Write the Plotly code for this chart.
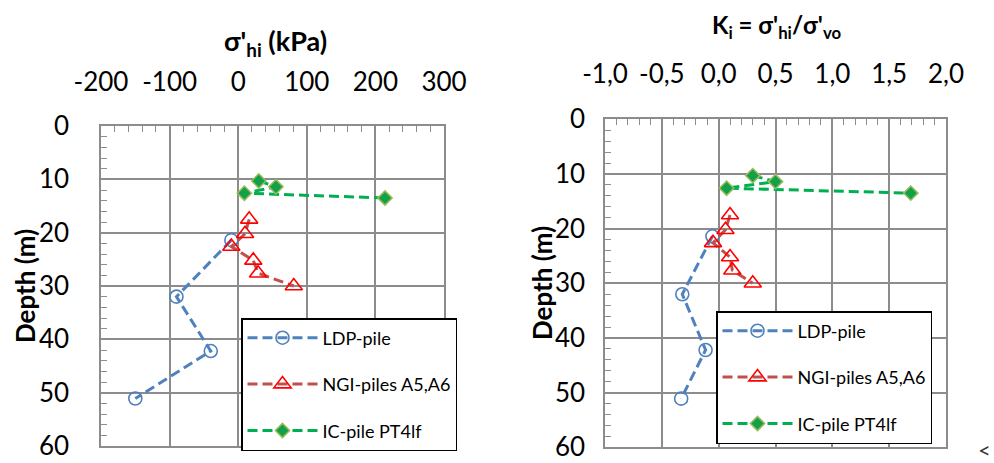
import plotly.graph_objects as go

# ---- data ----
ldp_depth = [21.4, 32.0, 42.2, 51.1]
ldp_sigma = [-10, -90, -40, -150]
ldp_k = [-0.055, -0.32, -0.115, -0.33]

ngi_depth = [17.5, 20.2, 22.6, 25.2, 27.6, 30.0]
ngi_sigma = [16, 10, -10, 22, 29, 81]
ngi_k = [0.10, 0.06, -0.05, 0.10, 0.12, 0.30]

ic_depth = [10.3, 11.4, 12.6, 13.5]
ic_sigma = [30, 55, 9, 214]
ic_k = [0.30, 0.50, 0.07, 1.69]

sigma_ticks = [-200, -100, 0, 100, 200, 300]
sigma_labels = ["-200", "-100", "0", "100", "200", "300"]
k_ticks = [-1.0, -0.5, 0.0, 0.5, 1.0, 1.5, 2.0]
k_labels = ["-1,0", "-0,5", "0,0", "0,5", "1,0", "1,5", "2,0"]
depth_ticks = [0, 10, 20, 30, 40, 50, 60]
depth_labels = ["0", "10", "20", "30", "40", "50", "60"]

names = ["LDP-pile", "NGI-piles A5,A6", "IC-pile PT4lf"]

FONT = "Lato"
GRID = "#8c8c8c"
DASH = "10px,5px"

fig = go.Figure()

styles = [
    dict(line=dict(color="#4F81BD", width=3, dash=DASH),
         marker=dict(symbol="circle-open", size=13, color="#4F81BD", line=dict(width=1.6, color="#4F81BD"))),
    dict(line=dict(color="#C0504D", width=3, dash=DASH),
         marker=dict(symbol="triangle-up-open", size=15, color="#FF0000", line=dict(width=1.6, color="#FF0000"))),
    dict(line=dict(color="#00B050", width=3, dash=DASH),
         marker=dict(symbol="diamond", size=11, color="#13A04A", line=dict(width=1.5, color="#9BBB59"))),
]

left = [(ldp_sigma, ldp_depth), (ngi_sigma, ngi_depth), (ic_sigma, ic_depth)]
right = [(ldp_k, ldp_depth), (ngi_k, ngi_depth), (ic_k, ic_depth)]

for i, (xs, ys) in enumerate(left):
    fig.add_trace(go.Scatter(x=xs, y=ys, mode="lines+markers", name=names[i],
                             xaxis="x", yaxis="y", legend="legend",
                             legendgroup="l%d" % i, **styles[i]))
for i, (xs, ys) in enumerate(right):
    fig.add_trace(go.Scatter(x=xs, y=ys, mode="lines+markers", name=names[i],
                             xaxis="x2", yaxis="y2", legend="legend2",
                             legendgroup="r%d" % i, **styles[i]))

W, H = 994, 463
def px_x(p):
    return p / W
def px_y(p):
    return 1 - p / H

tickfont = dict(family=FONT, size=26, color="black")

common_x = dict(side="top", showgrid=True, gridcolor=GRID, gridwidth=1.5,
                showline=True, linecolor=GRID, linewidth=1.5, mirror=True,
                zeroline=False, ticks="inside", ticklen=6, tickcolor=GRID, tickwidth=1,
                tickfont=tickfont, automargin=False)
common_y = dict(showgrid=True, gridcolor=GRID, gridwidth=1.5,
                showline=True, linecolor=GRID, linewidth=1.5, mirror=True,
                zeroline=False, ticks="inside", ticklen=6, tickcolor=GRID, tickwidth=1,
                tickfont=tickfont, automargin=False,
                tickvals=depth_ticks, ticktext=depth_labels, range=[60, 0],
                minor=dict(ticks="inside", ticklen=6, tickcolor=GRID, dtick=2, showgrid=False))

legend_common = dict(xanchor="left", yanchor="top",
                     bgcolor="white", bordercolor="black", borderwidth=1.5,
                     font=dict(family=FONT, size=18, color="black"),
                     tracegroupgap=20, itemwidth=70)

fig.update_layout(
    width=W, height=H, margin=dict(l=0, r=0, t=0, b=0),
    paper_bgcolor="white", plot_bgcolor="white",
    xaxis=dict(domain=[px_x(101), px_x(444)], anchor="y", range=[-200, 300],
               tickvals=sigma_ticks, ticktext=sigma_labels, ticklabelstandoff=23,
               minor=dict(ticks="inside", ticklen=6, tickcolor=GRID, dtick=20, showgrid=False),
               **common_x),
    yaxis=dict(domain=[px_y(446), px_y(126)], anchor="x", ticklabelstandoff=25, **common_y),
    xaxis2=dict(domain=[px_x(605), px_x(946)], anchor="y2", range=[-1, 2],
                tickvals=k_ticks, ticktext=k_labels, ticklabelstandoff=24,
                minor=dict(ticks="inside", ticklen=6, tickcolor=GRID, dtick=0.1, showgrid=False),
                **common_x),
    yaxis2=dict(domain=[px_y(447.3), px_y(119.3)], anchor="x2", ticklabelstandoff=13, **common_y),
    legend=dict(x=px_x(241), y=px_y(318), **legend_common),
    legend2=dict(x=px_x(716), y=px_y(311), **legend_common),
    annotations=[
        dict(text="<b>σ'<sub>hi</sub> (kPa)</b>", x=px_x(275), y=px_y(43), xref="paper", yref="paper",
             xanchor="center", yanchor="middle",
             showarrow=False, font=dict(family=FONT, size=27, color="black")),
        dict(text="<b>K<sub>i</sub> = σ'<sub>hi</sub>/σ'<sub>vo</sub></b>", x=px_x(776), y=px_y(26),
             xref="paper", yref="paper", xanchor="center", yanchor="middle", showarrow=False,
             font=dict(family=FONT, size=24, color="black")),
        dict(text="<b>Depth (m)</b>", x=px_x(25), y=px_y(286), xref="paper", yref="paper",
             xanchor="center", yanchor="middle",
             showarrow=False, textangle=-90, font=dict(family=FONT, size=26, color="black")),
        dict(text="<b>Depth (m)</b>", x=px_x(542), y=px_y(283), xref="paper", yref="paper",
             xanchor="center", yanchor="middle",
             showarrow=False, textangle=-90, font=dict(family=FONT, size=26, color="black")),
        dict(text="<", x=px_x(984), y=px_y(449), xref="paper", yref="paper",
             xanchor="center", yanchor="middle",
             showarrow=False, font=dict(family=FONT, size=22, color="#333333")),
    ],
)

fig.write_html("out.html", config={"displayModeBar": False},
               post_script="document.body.style.margin='0';document.body.style.overflow='hidden';")
